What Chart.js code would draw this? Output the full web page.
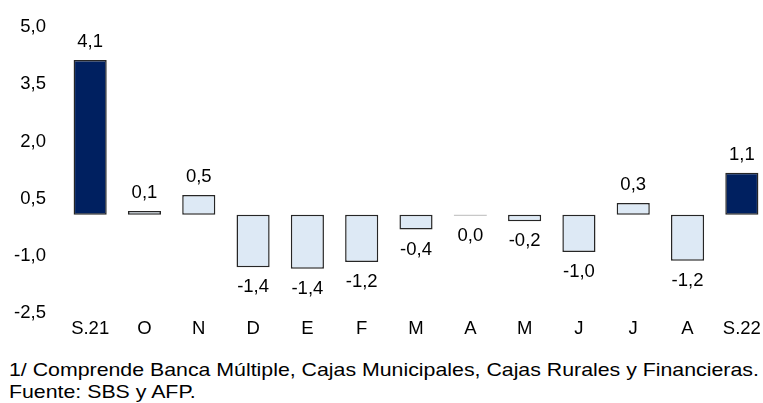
<!DOCTYPE html>
<html>
<head>
<meta charset="utf-8">
<script src="https://cdn.jsdelivr.net/npm/chart.js@4"></script>
<style>
    html, body { margin: 0; padding: 0; background: #fff; overflow: hidden; }
    body { width: 763px; height: 403px; position: relative; font-family: 'Liberation Sans', Arial, sans-serif; }
    #wrap { position: absolute; left: 0; top: -4px; width: 770px; height: 344px; }
    .note { position: absolute; left: 9px; font-size: 18.5px; color: #000; white-space: nowrap; line-height: 22px; transform: scaleX(1.152); transform-origin: left center; }
</style>
</head>
<body>
<div id="wrap"><canvas id="myChart"></canvas></div>
<div class="note" style="top:359px">1/ Comprende Banca Múltiple, Cajas Municipales, Cajas Rurales y Financieras.</div>
<div class="note" style="top:381px">Fuente: SBS y AFP.</div>
<script>
const labels = ['S.21', 'O', 'N', 'D', 'E', 'F', 'M', 'A', 'M', 'J', 'J', 'A', 'S.22'];
const values = [4.06, 0.1, 0.52, -1.38, -1.42, -1.24, -0.39, -0.02, -0.17, -0.98, 0.31, -1.21, 1.1];
const yTicks = [-2.5, -1.0, 0.5, 2.0, 3.5, 5.0];

const dark = '#002060';
const light = '#dde9f5';

function fmt(v) {
    let s = v.toFixed(1);
    if (s === '-0.0') s = '0.0';
    return s.replace('.', ',');
}

// etiquetas de valor encima / debajo de cada barra
const valueLabels = {
    id: 'valueLabels',
    afterDatasetsDraw(chart) {
        const ctx = chart.ctx;
        const meta = chart.getDatasetMeta(0);
        ctx.save();
        ctx.font = '18.5px "Liberation Sans", Arial, sans-serif';
        ctx.fillStyle = '#000';
        ctx.textAlign = 'center';
        ctx.textBaseline = 'middle';
        meta.data.forEach(function (bar, i) {
            const v = values[i];
            const y = v >= 0 ? bar.y - 18 : bar.y + 20;
            ctx.fillText(fmt(v), bar.x, y);
        });
        ctx.restore();
    }
};

const ctx = document.getElementById('myChart');

const myChart = new Chart(ctx, {
    type: 'bar',
    data: {
        labels: labels,
        datasets: [{
            data: values,
            backgroundColor: values.map((v, i) => (i === 0 || i === values.length - 1) ? dark : light),
            borderColor: '#262626',
            borderWidth: 1.5,
            borderSkipped: false,
            barPercentage: 0.61,
            categoryPercentage: 1
        }]
    },
    options: {
        responsive: true,
        maintainAspectRatio: false,
        animation: false,
        layout: { padding: { top: 0, right: 1, left: 0, bottom: 0 } },
        plugins: {
            legend: { display: false },
            tooltip: { enabled: false }
        },
        scales: {
            x: {
                grid: { display: false, drawTicks: false },
                border: { display: false },
                ticks: {
                    color: '#000',
                    font: { family: 'Liberation Sans', size: 18.5 },
                    padding: 8,
                    maxRotation: 0,
                    autoSkip: false
                },
                afterFit(scale) { scale.height = 30; }
            },
            y: {
                min: -2.5,
                max: 5.0,
                z: 1,
                afterBuildTicks(scale) {
                    scale.ticks = yTicks.map(v => ({ value: v }));
                },
                afterFit(scale) { scale.width = 63; },
                grid: {
                    drawTicks: false,
                    color: c => c.tick && c.tick.value === 0 ? '#d0d0d0' : 'rgba(0,0,0,0)',
                    lineWidth: 2
                },
                border: { display: false },
                ticks: {
                    color: '#000',
                    font: { family: 'Liberation Sans', size: 18.5 },
                    padding: 17,
                    labelOffset: 3,
                    callback: v => v.toFixed(1).replace('.', ',')
                }
            }
        }
    },
    plugins: [valueLabels]
});
</script>
</body>
</html>
